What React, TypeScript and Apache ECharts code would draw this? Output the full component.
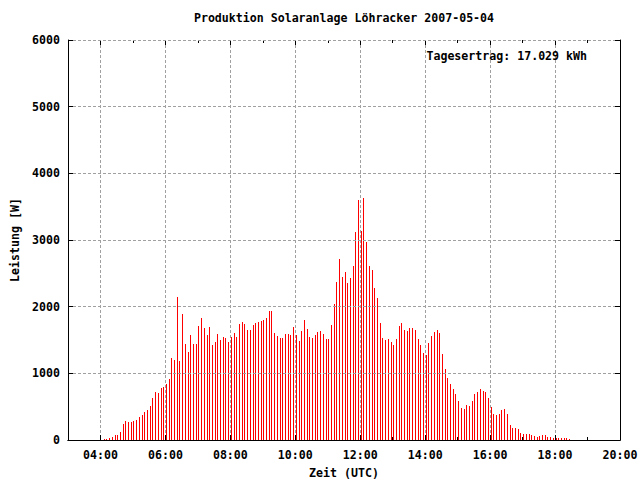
import React, { useEffect, useRef } from "react";
import * as echarts from "echarts";

// ---- data ----
const TITLE = "Produktion Solaranlage Löhracker 2007-05-04";
const TOTAL_LABEL = "Tagesertrag: 17.029 kWh";
const X_NAME = "Zeit (UTC)";
const Y_NAME = "Leistung [W]";

const START_HOUR = 4; // first sample 04:06
const START_MIN = 6;
const STEP_MIN = 5;

// power in W, one value every 5 minutes
const powerW = [
  15, 15, 30, 45, 75, 75, 120, 240, 285, 270,
  270, 285, 300, 345, 375, 420, 450, 510, 630, 720,
  705, 780, 795, 840, 915, 1230, 1200, 2145, 1185, 1890,
  1440, 1320, 1575, 1440, 1440, 1710, 1830, 1680, 1575, 1695,
  1425, 1470, 1590, 1500, 1545, 1530, 1470, 1545, 1605, 1545,
  1740, 1770, 1740, 1650, 1650, 1725, 1755, 1770, 1785, 1800,
  1830, 1935, 1935, 1605, 1560, 1530, 1530, 1590, 1590, 1575,
  1695, 1575, 1485, 1635, 1800, 1665, 1545, 1530, 1575, 1620,
  1635, 1590, 1515, 1515, 1725, 2040, 2370, 2715, 2445, 2520,
  2355, 2430, 2610, 3120, 3600, 3135, 3630, 2970, 2610, 2550,
  2280, 2130, 1755, 1530, 1500, 1515, 1470, 1425, 1515, 1710,
  1755, 1650, 1635, 1680, 1680, 1650, 1515, 1425, 1305, 1275,
  1455, 1560, 1620, 1650, 1605, 1290, 1065, 930, 840, 765,
  690, 585, 480, 465, 525, 510, 585, 690, 720, 765,
  735, 720, 630, 495, 390, 375, 390, 450, 465, 390,
  225, 180, 180, 165, 105, 90, 90, 90, 75, 60,
  45, 60, 75, 75, 45, 45, 30, 30, 30, 30,
  30, 30, 15,
];

const X_MIN = 3;
const X_MAX = 20;
const X_LABEL_MIN = 4;
const X_LABEL_STEP = 2;
const Y_MIN = 0;
const Y_MAX = 6000;
const Y_STEP = 1000;

const FONT = "'DejaVu Sans Mono', 'Liberation Mono', monospace";
const FS = 11.6;

const pad2 = (n: number) => (n < 10 ? "0" + n : "" + n);

export default function App() {
  const ref = useRef<HTMLDivElement>(null);

  useEffect(() => {
    if (!ref.current) return;
    const chart = echarts.init(ref.current, undefined, { renderer: "svg" });

    const data = powerW.map((v, i) => [
      START_HOUR + (START_MIN + STEP_MIN * i) / 60,
      v,
    ]);

    const L = 68;
    const T = 40;
    const W = 552;
    const H = 400;
    const L1 = L + (W * (X_LABEL_MIN - X_MIN)) / (X_MAX - X_MIN);
    const W1 = L + W - L1;

    const textBase = {
      fontFamily: FONT,
      fontSize: FS,
      fontWeight: "bold" as const,
      color: "#000",
    };
    const gridLine = {
      show: true,
      lineStyle: { color: "#a0a0a0", width: 1, type: [3, 2] as any },
    };
    const border = { show: true, lineStyle: { color: "#000", width: 1 } };
    const tick = {
      show: true,
      inside: true,
      length: 5,
      lineStyle: { color: "#000", width: 1 },
    };
    const minor = {
      show: true,
      splitNumber: 2,
      length: 3,
      lineStyle: { color: "#000", width: 1 },
    };

    chart.setOption({
      animation: false,
      backgroundColor: "#ffffff",
      textStyle: { fontFamily: FONT },
      title: {
        text: TITLE,
        left: L + W / 2,
        textAlign: "center",
        top: 12,
        padding: 0,
        textStyle: { ...textBase },
      },
      grid: [
        {
          left: L,
          top: T,
          width: W,
          height: H,
          show: false,
          containLabel: false,
          outerBoundsMode: "none",
        },
        {
          left: L1,
          top: T,
          width: W1,
          height: H,
          show: false,
          containLabel: false,
          outerBoundsMode: "none",
        },
      ],
      xAxis: [
        {
          gridIndex: 0,
          type: "value",
          min: X_MIN,
          max: X_MAX,
          position: "bottom",
          z: 5,
          axisLine: border,
          axisTick: { show: false },
          axisLabel: { show: false },
          splitLine: { show: false },
          name: X_NAME,
          nameLocation: "middle",
          nameGap: 27,
          nameTextStyle: { ...textBase },
        },
        {
          gridIndex: 0,
          type: "value",
          min: X_MIN,
          max: X_MAX,
          position: "top",
          z: 5,
          axisLine: border,
          axisTick: { show: false },
          axisLabel: { show: false },
          splitLine: { show: false },
        },
        {
          gridIndex: 1,
          type: "value",
          min: X_LABEL_MIN,
          max: X_MAX,
          interval: X_LABEL_STEP,
          position: "bottom",
          axisLine: { show: false },
          axisTick: tick,
          minorTick: minor,
          axisLabel: {
            ...textBase,
            margin: 9,
            formatter: (v: number) => pad2(Math.round(v)) + ":00",
          },
          splitLine: gridLine,
        },
        {
          gridIndex: 1,
          type: "value",
          min: X_LABEL_MIN,
          max: X_MAX,
          interval: X_LABEL_STEP,
          position: "top",
          axisLine: { show: false },
          axisTick: tick,
          minorTick: minor,
          axisLabel: { show: false },
          splitLine: { show: false },
        },
      ],
      yAxis: [
        {
          gridIndex: 0,
          type: "value",
          min: Y_MIN,
          max: Y_MAX,
          interval: Y_STEP,
          position: "left",
          z: 5,
          axisLine: border,
          axisTick: tick,
          axisLabel: {
            ...textBase,
            margin: 8,
            formatter: (v: number) => String(Math.round(v)),
          },
          splitLine: gridLine,
          name: Y_NAME,
          nameLocation: "middle",
          nameGap: 47,
          nameRotate: 90,
          nameTextStyle: { ...textBase },
        },
        {
          gridIndex: 0,
          type: "value",
          min: Y_MIN,
          max: Y_MAX,
          interval: Y_STEP,
          position: "right",
          z: 5,
          axisLine: border,
          axisTick: tick,
          axisLabel: { show: false },
          splitLine: { show: false },
        },
        {
          gridIndex: 1,
          type: "value",
          min: Y_MIN,
          max: Y_MAX,
          show: false,
        },
      ],
      graphic: [
        {
          type: "text",
          x: 587,
          y: 56,
          z: 10,
          style: {
            text: TOTAL_LABEL,
            align: "right",
            verticalAlign: "middle",
            font: `bold ${FS}px ${FONT}`,
            fill: "#000",
          },
        },
      ],
      series: [
        {
          type: "custom",
          name: "Leistung",
          xAxisIndex: 0,
          yAxisIndex: 0,
          coordinateSystem: "cartesian2d",
          encode: { x: 0, y: 1 },
          data,
          silent: true,
          renderItem: (params: any, api: any) => {
            const top = api.coord([api.value(0), api.value(1)]);
            const base = api.coord([api.value(0), 0]);
            const x = Math.round(top[0]);
            const y = Math.round(top[1]);
            return {
              type: "rect",
              shape: { x, y, width: 1, height: Math.round(base[1]) - y },
              style: { fill: "#ff0000" },
            };
          },
        },
      ],
    });

    return () => chart.dispose();
  }, []);

  return (
    <div
      ref={ref}
      style={{ position: "fixed", left: 0, top: 0, width: 640, height: 480 }}
    />
  );
}
